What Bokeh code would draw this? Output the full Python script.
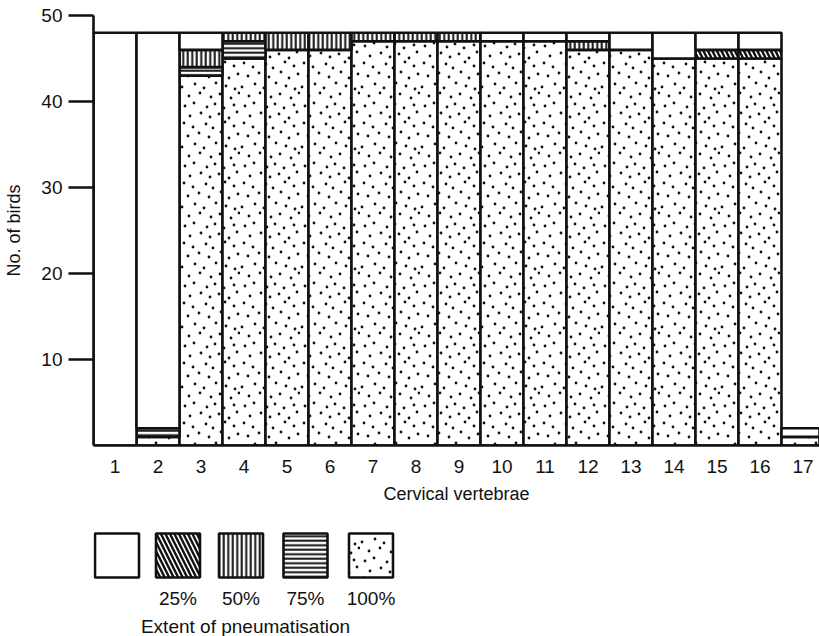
from urllib.parse import quote
from bokeh.plotting import figure
from bokeh.layouts import column
from bokeh.models import FixedTicker, Range1d, ImageURLTexture
from bokeh.embed import file_html
from bokeh.resources import INLINE
from bokeh.core.properties import value

# ---- data (number of birds per cervical vertebra, by extent of pneumatisation)
vertebrae = list(range(1, 18))
tick_labels = [str(v) for v in vertebrae]
ext_100 = [0, 1, 43, 45, 46, 46, 47, 47, 47, 47, 47, 46, 46, 45, 45, 45, 1]
ext_75 = [0, 1, 1, 2, 0, 0, 0, 0, 0, 0, 0, 0, 0, 0, 0, 0, 0]
ext_50 = [0, 0, 2, 1, 2, 2, 1, 1, 1, 0, 0, 1, 0, 0, 0, 0, 0]
ext_25 = [0, 0, 0, 0, 0, 0, 0, 0, 0, 0, 0, 0, 0, 0, 1, 1, 0]
ext_0 = [48, 46, 2, 0, 0, 0, 0, 0, 0, 1, 1, 1, 2, 3, 2, 2, 1]

legend_labels = ["", "25%", "50%", "75%", "100%"]
legend_title = "Extent of pneumatisation"
y_ticks = [10, 20, 30, 40, 50]

FONT_NAME = "Liberation Sans"
FONT = value(FONT_NAME)
INK = "#111111"
FS = "19px"
LEFT = 93

# stipple texture for "100%": a 60 px tile with hand-placed dots (purely decorative fill)
_tile_dots = [(4, 3), (13, 7), (26, 4), (33, 8), (45, 2), (54, 6),
              (8, 16), (19, 13), (29, 17), (41, 12), (49, 18), (58, 14),
              (2, 27), (15, 24), (24, 28), (36, 23), (46, 26), (55, 29),
              (9, 36), (20, 33), (31, 37), (40, 34), (51, 38), (59, 33),
              (5, 46), (14, 43), (27, 47), (35, 44), (44, 48), (54, 45),
              (10, 56), (21, 53), (30, 57), (39, 54), (49, 58), (57, 52)]
_svg = ("<svg xmlns='http://www.w3.org/2000/svg' width='60' height='60' viewBox='0 0 60 60'>"
        + "".join(f"<circle cx='{a}' cy='{b}' r='1.4' fill='#111'/>" for a, b in _tile_dots)
        + "</svg>")
stipple = ImageURLTexture(url="data:image/svg+xml;charset=utf-8," + quote(_svg),
                          repetition="repeat")

# hatch style per extent
styles = {
    "100%": dict(hatch_pattern=value("stipple"), hatch_extra={"stipple": stipple},
                 hatch_scale=60),
    "75%": dict(hatch_pattern="horizontal_line", hatch_scale=4.5, hatch_weight=2.0),
    "50%": dict(hatch_pattern="vertical_line", hatch_scale=4.5, hatch_weight=2.0),
    "25%": dict(hatch_pattern="left_diagonal_line", hatch_scale=9, hatch_weight=2.4),
    "": dict(),
}

layers = [("100%", ext_100), ("75%", ext_75), ("50%", ext_50), ("25%", ext_25), ("", ext_0)]

p = figure(width=819, height=515,
           x_range=Range1d(0.5, 0.5 + (819 - LEFT) / 43.0), y_range=Range1d(0, 50),
           output_backend="svg", toolbar_location=None,
           min_border_left=LEFT, min_border_right=0, min_border_top=15, min_border_bottom=70)
p.outline_line_color = None
p.xgrid.grid_line_color = None
p.ygrid.grid_line_color = None
p.background_fill_color = "white"
p.border_fill_color = "white"

bottom = [0] * len(vertebrae)
for name, vals in layers:
    top = [b + v for b, v in zip(bottom, vals)]
    xs = [x for x, v in zip(vertebrae, vals) if v > 0]
    bs = [b for b, v in zip(bottom, vals) if v > 0]
    ts = [t for t, v in zip(top, vals) if v > 0]
    p.vbar(x=xs, bottom=bs, top=ts, width=1.0, fill_color="white",
           line_color=INK, line_width=2.6, hatch_color=INK, **styles[name])
    bottom = top

# axes
p.yaxis.ticker = FixedTicker(ticks=y_ticks)
p.yaxis.minor_tick_line_color = None
p.yaxis.major_tick_in = 0
p.yaxis.major_tick_out = 25
p.yaxis.major_tick_line_width = 2.6
p.yaxis.major_tick_line_color = INK
p.yaxis.axis_line_width = 2.6
p.yaxis.axis_line_color = INK
p.yaxis.major_label_standoff = 6
p.yaxis.major_label_text_font = FONT_NAME
p.yaxis.major_label_text_font_size = FS
p.yaxis.major_label_text_color = INK
p.yaxis.axis_label = "No. of birds"
p.yaxis.axis_label_text_font = FONT_NAME
p.yaxis.axis_label_text_font_size = "18px"
p.yaxis.axis_label_text_font_style = "normal"
p.yaxis.axis_label_text_color = INK
p.yaxis.axis_label_standoff = 14

p.xaxis.ticker = FixedTicker(ticks=vertebrae)
p.xaxis.major_label_overrides = {v: s for v, s in zip(vertebrae, tick_labels)}
p.xaxis.minor_tick_line_color = None
p.xaxis.major_tick_in = 0
p.xaxis.major_tick_out = 0
p.xaxis.axis_line_width = 2.6
p.xaxis.axis_line_color = INK
p.xaxis.major_label_standoff = 14
p.xaxis.major_label_text_font = FONT_NAME
p.xaxis.major_label_text_font_size = FS
p.xaxis.major_label_text_color = INK
p.xaxis.axis_label = "Cervical vertebrae"
p.xaxis.axis_label_text_font = FONT_NAME
p.xaxis.axis_label_text_font_size = "18px"
p.xaxis.axis_label_text_font_style = "normal"
p.xaxis.axis_label_text_color = INK
p.xaxis.axis_label_standoff = 8

# ---- legend panel (custom: boxes with labels beneath). The column layout aligns its
# frame with the chart frame, so the x range starts at the chart's left border.
lf = figure(width=819, height=121, x_range=Range1d(LEFT, 819), y_range=Range1d(121, 0),
            x_axis_location=None, y_axis_location=None,
            output_backend="svg", toolbar_location=None, min_border=0)
lf.xgrid.grid_line_color = None
lf.ygrid.grid_line_color = None
lf.outline_line_color = None

legend_x = [116.5, 177.5, 240.5, 305.0, 370.5]
for lx, name in zip(legend_x, legend_labels):
    lf.rect(x=[lx], y=[40], width=44, height=44, width_units="screen", height_units="screen",
            fill_color="white", line_color=INK, line_width=2.6, hatch_color=INK, **styles[name])

lab = [(lx, n) for lx, n in zip(legend_x, legend_labels) if n]
lf.text(x=[a for a, _ in lab], y=[83] * len(lab), text=[n for _, n in lab],
        text_align="center", text_baseline="middle", text_font=FONT,
        text_font_size=FS, text_color=INK)
lf.text(x=[245], y=[111], text=[legend_title], text_align="center", text_baseline="middle",
        text_font=FONT, text_font_size=FS, text_color=INK)

layout = column(p, lf, spacing=0)
open("out.html", "w").write(file_html(layout, INLINE))
